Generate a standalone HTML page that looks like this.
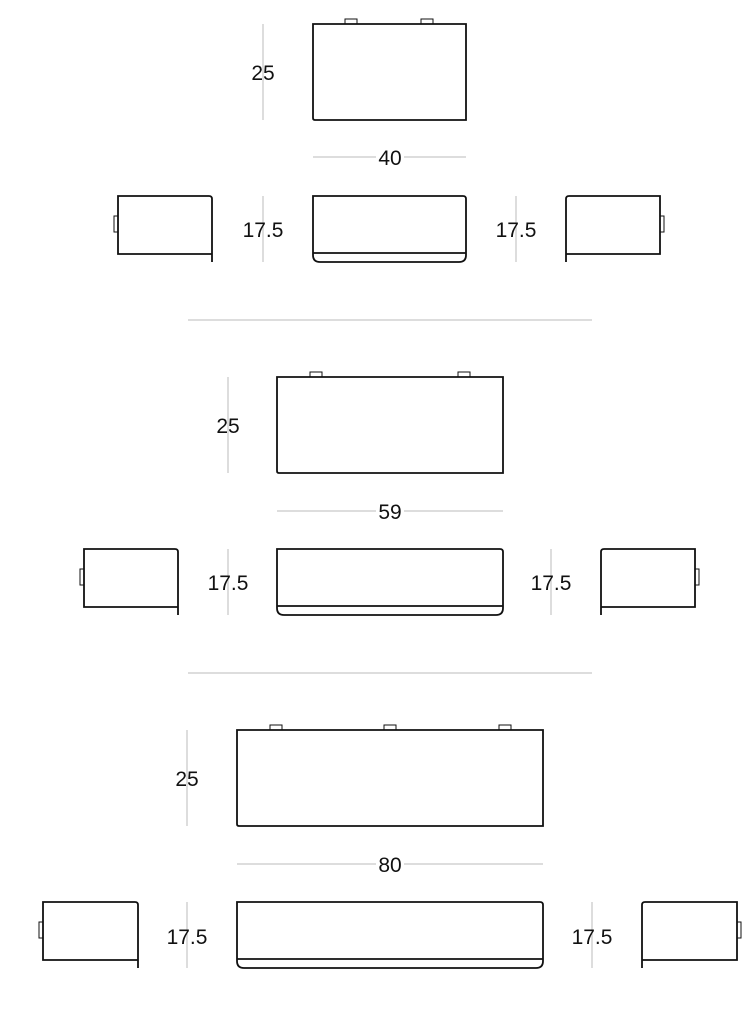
<!DOCTYPE html>
<html><head><meta charset="utf-8"><style>
html,body{margin:0;padding:0;background:#fff}
svg{display:block}
text{font-family:"Liberation Sans",sans-serif;font-size:21px;fill:#111}
</style></head><body>
<svg width="756" height="1024" viewBox="0 0 756 1024" xmlns="http://www.w3.org/2000/svg">
<g fill="none" stroke="#bbb" stroke-width="1">
<line x1="188" y1="320" x2="592" y2="320"/>
<line x1="188" y1="673" x2="592" y2="673"/>
<line x1="263" y1="24" x2="263" y2="120"/>
<line x1="313" y1="157" x2="466" y2="157"/>
<line x1="263" y1="196" x2="263" y2="262"/>
<line x1="516" y1="196" x2="516" y2="262"/>
<line x1="228" y1="377" x2="228" y2="473"/>
<line x1="277" y1="511" x2="503" y2="511"/>
<line x1="228" y1="549" x2="228" y2="615"/>
<line x1="551" y1="549" x2="551" y2="615"/>
<line x1="187" y1="730" x2="187" y2="826"/>
<line x1="237" y1="864" x2="543" y2="864"/>
<line x1="187" y1="902" x2="187" y2="968"/>
<line x1="592" y1="902" x2="592" y2="968"/>
</g>
<g fill="#fff" stroke="#111" stroke-width="1.8">
<rect x="345" y="19" width="12" height="5" stroke-width="1"/>
<rect x="421" y="19" width="12" height="5" stroke-width="1"/>
<path d="M313 24 H466 V120 H315 Q313 120 313 118 Z"/>
<rect x="114" y="216" width="4" height="16" stroke-width="1"/>
<path d="M118 196 H209 Q212 196 212 199 V254 H118 Z M212 254 V262"/>
<path d="M313 196 H463 Q466 196 466 199 V255 Q466 262 459 262 H320 Q313 262 313 255 Z M313 253 H466"/>
<rect x="660" y="216" width="4" height="16" stroke-width="1"/>
<path d="M660 196 H569 Q566 196 566 199 V254 H660 Z M566 254 V262"/>
<rect x="310" y="372" width="12" height="5" stroke-width="1"/>
<rect x="458" y="372" width="12" height="5" stroke-width="1"/>
<path d="M277 377 H503 V473 H279 Q277 473 277 471 Z"/>
<rect x="80" y="569" width="4" height="16" stroke-width="1"/>
<path d="M84 549 H175 Q178 549 178 552 V607 H84 Z M178 607 V615"/>
<path d="M277 549 H500 Q503 549 503 552 V608 Q503 615 496 615 H284 Q277 615 277 608 Z M277 606 H503"/>
<rect x="695" y="569" width="4" height="16" stroke-width="1"/>
<path d="M695 549 H604 Q601 549 601 552 V607 H695 Z M601 607 V615"/>
<rect x="270" y="725" width="12" height="5" stroke-width="1"/>
<rect x="384" y="725" width="12" height="5" stroke-width="1"/>
<rect x="499" y="725" width="12" height="5" stroke-width="1"/>
<path d="M237 730 H543 V826 H239 Q237 826 237 824 Z"/>
<rect x="39" y="922" width="4" height="16" stroke-width="1"/>
<path d="M43 902 H135 Q138 902 138 905 V960 H43 Z M138 960 V968"/>
<path d="M237 902 H540 Q543 902 543 905 V961 Q543 968 536 968 H244 Q237 968 237 961 Z M237 959 H543"/>
<rect x="737" y="922" width="4" height="16" stroke-width="1"/>
<path d="M737 902 H645 Q642 902 642 905 V960 H737 Z M642 960 V968"/>
</g>
<g text-anchor="middle">
<text x="263" y="80">25</text>
<rect x="376" y="146" width="28" height="22" fill="#fff"/>
<text x="390" y="165">40</text>
<text x="263" y="237">17.5</text>
<text x="516" y="237">17.5</text>
<text x="228" y="433">25</text>
<rect x="376" y="500" width="28" height="22" fill="#fff"/>
<text x="390" y="519">59</text>
<text x="228" y="590">17.5</text>
<text x="551" y="590">17.5</text>
<text x="187" y="786">25</text>
<rect x="376" y="853" width="28" height="22" fill="#fff"/>
<text x="390" y="872">80</text>
<text x="187" y="944">17.5</text>
<text x="592" y="944">17.5</text>
</g>
</svg>
</body></html>
